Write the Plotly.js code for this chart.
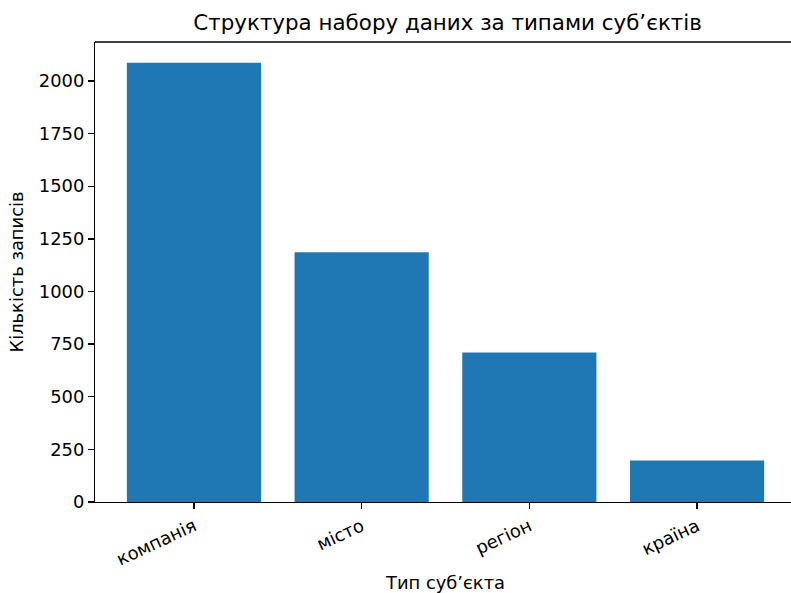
<!DOCTYPE html>
<html>
<head>
<meta charset="utf-8">
<script src="https://cdn.plot.ly/plotly-3.0.1.min.js"></script>
<style>
html,body{margin:0;padding:0;overflow:hidden;background:#fff;width:791px;height:593px;}
#chart{width:800px;height:593px;}
</style>
</head>
<body>
<div id="chart"></div>
<script>
const categories = ["компанія", "місто", "регіон", "країна"];
const counts = [2087, 1186, 710, 197];
const yTicks = [0, 250, 500, 750, 1000, 1250, 1500, 1750, 2000];

const font = "DejaVu Sans, sans-serif";
const trace = {
  type: "bar",
  x: categories,
  y: counts,
  width: 0.8,
  marker: {color: "#1f77b4", line: {width: 0}},
  hoverinfo: "none"
};
const layout = {
  width: 800,
  height: 593,
  margin: {l: 95, r: 3.5, t: 41.7, b: 90.5},
  paper_bgcolor: "#ffffff",
  plot_bgcolor: "#ffffff",
  showlegend: false,
  font: {family: font, color: "#000000", size: 17.9},
  title: {
    text: "Структура набору даних за типами суб’єктів",
    font: {family: font, size: 21.4, color: "#000000"},
    x: 0.5595, xanchor: "center",
    y: 0.962, yanchor: "middle"
  },
  xaxis: {
    type: "category",
    range: [-0.59, 3.59],
    showgrid: false,
    zeroline: false,
    showline: true,
    linecolor: "#000000",
    linewidth: 1.33,
    mirror: false,
    ticks: "outside",
    ticklen: 5.8,
    tickwidth: 1.33,
    tickcolor: "#000000",
    tickangle: -25,
    tickfont: {family: font, size: 17.9, color: "#000000"},
    title: {text: "Тип суб’єкта", font: {family: font, size: 17.9, color: "#000000"}, standoff: 10}
  },
  yaxis: {
    range: [0, 2185],
    tickvals: yTicks,
    ticktext: yTicks.map(String),
    showgrid: false,
    zeroline: false,
    showline: true,
    linecolor: "#000000",
    linewidth: 1.33,
    ticks: "outside",
    ticklen: 5.8,
    tickwidth: 1.33,
    tickcolor: "#000000",
    tickfont: {family: font, size: 17.9, color: "#000000"},
    title: {text: "Кількість записів", font: {family: font, size: 17.9, color: "#000000"}, standoff: 10}
  },
  shapes: [{
    type: "line", xref: "paper", yref: "paper",
    x0: 0, x1: 1, y0: 1, y1: 1,
    line: {color: "#000000", width: 1.33}
  }]
};
Plotly.newPlot("chart", [trace], layout, {staticPlot: true, displayModeBar: false});
</script>
</body>
</html>
